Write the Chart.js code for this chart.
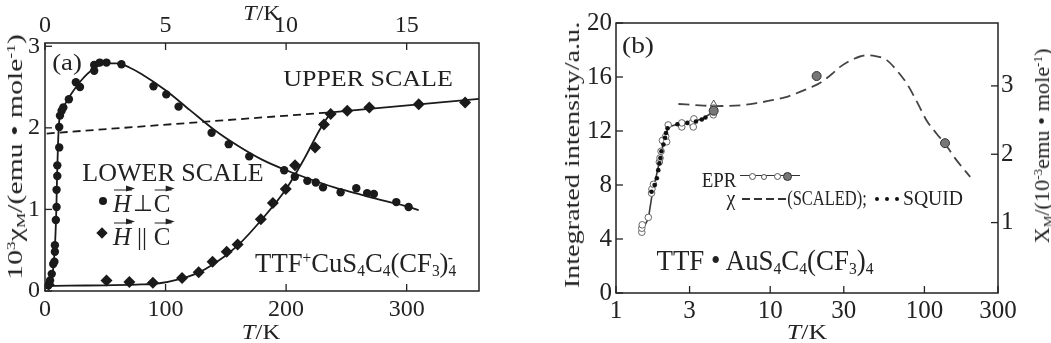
<!DOCTYPE html>
<html>
<head>
<meta charset="utf-8">
<script src="https://cdn.jsdelivr.net/npm/chart.js@4.4.0/dist/chart.umd.min.js"></script>
<style>
html,body{margin:0;padding:0;background:#fff;}
#wrap{position:relative;width:1051px;height:343px;overflow:hidden;background:#fff;font-family:"Liberation Serif","Times New Roman",Times,serif;color:#222;}
#ca{position:absolute;left:0;top:0;}
#cb{position:absolute;left:540px;top:0;}
.t{position:absolute;white-space:nowrap;line-height:1;}
.t sub,.t sup{font-size:58%;line-height:0;}
.t sub{vertical-align:-0.25em;}
.t sup{vertical-align:0.55em;}
.vec{position:relative;display:inline-block;}
.vec .ar{position:absolute;left:1px;right:-1px;top:-1px;height:0;border-top:1.6px solid #222;}
.vec .ar::after{content:"";position:absolute;right:-3px;top:-4.8px;border-left:9px solid #222;border-top:3.6px solid transparent;border-bottom:3.6px solid transparent;}
.mk{position:absolute;}
</style>
</head>
<body>
<div id="wrap">
<canvas id="ca" width="520" height="343"></canvas>
<canvas id="cb" width="511" height="343"></canvas>

<!-- panel (a) texts -->
<div class="t" data-x="261.5" data-y="13" data-w="37" style="font-size:22px"><i>T</i>/K</div>
<div class="t" data-x="261" data-y="332" data-w="38" style="font-size:22px"><i>T</i>/K</div>
<div class="t" data-x="15" data-y="157" data-w="245" data-r="-90" style="font-size:22px">10<sup>3</sup>χ<sub>M</sub>/(emu • mole<sup>-1</sup>)</div>
<div class="t" data-x="67" data-y="62" data-w="30" style="font-size:24px">(a)</div>
<div class="t" data-x="368" data-y="78" data-w="170" style="font-size:24px">UPPER SCALE</div>
<div class="t" data-x="172.5" data-y="172" data-w="181" style="font-size:25px">LOWER SCALE</div>
<div class="t" data-x="354" data-y="263" data-w="198" style="font-size:28px">TTF<sup>+</sup>CuS<sub>4</sub>C<sub>4</sub>(CF<sub>3</sub>)<sub>4</sub><sup style="margin-left:-0.55em">-</sup></div>

<div class="mk" style="left:99px;top:197px;width:8px;height:8px;border-radius:50%;background:#1a1a1a"></div>
<div class="mk" style="left:98px;top:229px;width:8px;height:8px;background:#1a1a1a;transform:rotate(45deg)"></div>
<div class="t" data-x="122" data-y="203" style="font-size:25px"><span class="vec"><i>H</i><span class="ar"></span></span></div>
<div class="t" data-x="143" data-y="203" style="font-size:23px">⊥</div>
<div class="t" data-x="162" data-y="203" style="font-size:25px"><span class="vec">C<span class="ar"></span></span></div>
<div class="t" data-x="122" data-y="236" style="font-size:25px"><span class="vec"><i>H</i><span class="ar"></span></span></div>
<div class="t" data-x="142" data-y="236" style="font-size:25px">||</div>
<div class="t" data-x="162" data-y="236" style="font-size:25px"><span class="vec">C<span class="ar"></span></span></div>

<!-- panel (b) texts -->
<div class="t" data-x="637.5" data-y="45" data-w="32" style="font-size:24px">(b)</div>
<div class="t" data-x="572" data-y="155" data-w="266" data-r="-90" style="font-size:22px">Integrated intensity/a.u.</div>
<div class="t" data-x="1042" data-y="146" data-w="195" data-r="-90" style="font-size:22px">X<sub>M</sub>/(10<sup>-3</sup>emu • mole<sup>-1</sup>)</div>
<div class="t" data-x="806.7" data-y="332" data-w="40" style="font-size:22px"><i>T</i>/K</div>
<div class="t" data-x="765" data-y="260" data-w="217" style="font-size:29px">TTF • AuS<sub>4</sub>C<sub>4</sub>(CF<sub>3</sub>)<sub>4</sub></div>
<div class="t" data-x="719" data-y="180" data-w="35" style="font-size:20px">EPR</div>
<div class="t" data-x="731" data-y="198" style="font-size:20px">χ</div>
<div class="t" data-x="827" data-y="198" data-w="80" style="font-size:20px">(SCALED);</div>
<div class="t" data-x="933" data-y="198" data-w="60" style="font-size:20px">SQUID</div>

<div class="mk" style="left:740px;top:175px;width:60px;height:0;border-top:1.6px solid #333"></div>
<div class="mk" style="left:748.5px;top:172.5px;width:5px;height:5px;border-radius:50%;background:#fff;border:1px solid #555"></div>
<div class="mk" style="left:761px;top:173.5px;width:4px;height:4px;border-radius:50%;background:#fff;border:1px solid #555"></div>
<div class="mk" style="left:773.5px;top:172.5px;width:5px;height:5px;border-radius:50%;background:#fff;border:1px solid #555"></div>
<div class="mk" style="left:783px;top:171.5px;width:7px;height:7px;border-radius:50%;background:#777;border:1px solid #333"></div>
<div class="mk" style="left:742px;top:198px;width:45px;height:2px;background:repeating-linear-gradient(90deg,#333 0 8px,transparent 8px 12px)"></div>
<div class="mk" style="left:875px;top:197px;width:4px;height:4px;border-radius:50%;background:#111"></div>
<div class="mk" style="left:885px;top:197px;width:4px;height:4px;border-radius:50%;background:#111"></div>
<div class="mk" style="left:895px;top:197px;width:4px;height:4px;border-radius:50%;background:#111"></div>
</div>

<script>
// ===== Panel (a): H perpendicular C (circles, upper scale, K) =====
const aPerpK   = [0.14,0.21,0.28,0.34,0.39,0.41,0.41,0.45,0.48,0.48,0.51,0.51,0.59,0.59,0.62,0.69,0.76,0.99,1.28,1.45,2.04,2.04,2.27,2.55,3.17,4.50,5.03,5.54,6.91,7.62,8.47,9.92,10.36,10.88,11.23,11.53,12.26,12.91,13.36,13.64,14.57,15.08];
const aPerpChi = [0.07,0.13,0.21,0.33,0.36,0.48,0.56,0.87,1.03,1.24,1.41,1.54,1.76,2.01,2.15,2.21,2.25,2.35,2.56,2.50,2.70,2.77,2.80,2.80,2.78,2.51,2.41,2.26,1.94,1.80,1.65,1.48,1.40,1.35,1.33,1.27,1.21,1.26,1.20,1.19,1.09,1.03];
const aPerpFitK   = [0.05,0.2,0.33,0.42,0.47,0.5,0.54,0.58,0.68,0.85,1.1,1.5,2.0,2.5,3.0,3.5,4.0,5.0,6.0,7.0,8.0,9.0,10.0,11.0,12.0,13.0,14.0,15.0,15.5];
const aPerpFitChi = [0.03,0.08,0.25,0.6,1.0,1.4,1.8,2.05,2.2,2.3,2.42,2.58,2.72,2.79,2.79,2.74,2.66,2.46,2.22,1.98,1.78,1.61,1.48,1.37,1.27,1.19,1.11,1.04,0.99];
// ===== Panel (a): H parallel C (diamonds, lower scale, K) =====
const aParT   = [3,51,70,89.5,113.7,127.5,139,150.7,159.8,179,189,199.7,207.4,224,231.4,237,250.7,269,310,348.5];
const aParChi = [0.08,0.13,0.11,0.10,0.16,0.23,0.36,0.48,0.57,0.88,1.08,1.25,1.54,1.76,2.04,2.17,2.21,2.25,2.29,2.31];
const aParFitT   = [1.5,20,50,80,95,110,125,140,160,180,200,215,228,237];
const aParFitChi = [0.06,0.065,0.07,0.08,0.095,0.14,0.21,0.33,0.56,0.88,1.25,1.62,1.98,2.19];
const aParHighT   = [237,360];
const aParHighChi = [2.19,2.355];
const aDashT   = [1.4,237];
const aDashChi = [1.93,2.19];
const aLowerTicks = [0,100,200,300];
const aUpperTicks = [0,5,10,15];
const aYTicks = [0,1,2,3];

// ===== Panel (b) =====
const bEprT = [1.47,1.47,1.48,1.62,1.70,1.71,1.75,1.91,1.93,1.96,2.0,2.13,2.1,2.18,2.67,2.67,3.1,3.17,3.2,4.28,4.3];
const bEprI = [4.5,4.8,5.05,5.6,7.4,7.7,8.05,9.7,10.0,10.5,11.3,11.2,11.6,12.45,12.3,12.6,12.6,12.3,12.9,13.2,13.7];
const bEprLineT = [1.47,1.62,1.72,1.82,1.92,2.02,2.12,2.2,2.4,2.7,3.2,3.7,4.3];
const bEprLineI = [4.6,5.5,7.4,8.6,9.8,11.0,11.9,12.3,12.45,12.5,12.7,12.95,13.45];
const bSquidT = [1.70,1.78,1.84,1.88,1.91,1.94,1.97,2.03,2.08,2.11,2.16,2.5,2.9,3.3,3.6,3.8];
const bSquidI = [7.5,8.0,8.5,9.1,9.6,10.0,10.5,11.0,11.5,11.85,12.2,12.5,12.6,12.7,12.85,13.0];
const bGrayT = [4.3,20,136];
const bGrayI = [13.5,16.07,11.1];
const bTriT = [4.3];
const bTriI = [14.0];
const bChiT = [2.54,3.5,4.28,6.4,8.5,10.5,13,15.6,18,21,25,28.4,35,42,48,57,66,77,90,103,120,136,160,198];
const bChiI = [14.0,13.9,13.85,13.9,14.1,14.3,14.55,14.9,15.2,15.55,16.2,16.75,17.35,17.6,17.55,17.25,16.5,15.5,14.1,12.8,11.8,11.05,9.9,8.6];
const bXTicks = [1,3,10,30,100,300];
const bYTicks = [0,4,8,12,16,20];
const bY2Ticks = [1,2,3];

const pts = (xs, ys) => xs.map((x, i) => ({x, y: ys[i]}));
const INK = '#1a1a1a';
const FONT = '"Liberation Serif", "Times New Roman", Times, serif';
Chart.defaults.font.family = FONT;
Chart.defaults.color = '#222';

const frameTicks = {
  id: 'frameTicks',
  afterDatasetsDraw(chart) {
    const {ctx, chartArea: a} = chart;
    const L = 7;
    ctx.save();
    ctx.strokeStyle = '#222';
    ctx.lineWidth = 1.5;
    ctx.strokeRect(a.left, a.top, a.right - a.left, a.bottom - a.top);
    ctx.lineWidth = 1.3;
    Object.values(chart.scales).forEach(s => {
      s.ticks.forEach(t => {
        const p = s.getPixelForValue(t.value);
        ctx.beginPath();
        if (s.position === 'bottom') { ctx.moveTo(p, a.bottom); ctx.lineTo(p, a.bottom - L); }
        else if (s.position === 'top') { ctx.moveTo(p, a.top); ctx.lineTo(p, a.top + L); }
        else if (s.position === 'left') { ctx.moveTo(a.left, p); ctx.lineTo(a.left + L, p); }
        else if (s.position === 'right') { ctx.moveTo(a.right, p); ctx.lineTo(a.right - L, p); }
        ctx.stroke();
      });
    });
    ctx.restore();
  }
};

function axis(pos, min, max, tickVals, fit, size, pad, extra) {
  return Object.assign({
    position: pos, min, max,
    grid: {display: false, drawTicks: false},
    border: {display: false},
    afterBuildTicks: s => { s.ticks = tickVals.map(v => ({value: v})); },
    afterFit: s => { if (pos === 'top' || pos === 'bottom') s.height = fit; else s.width = fit; },
    ticks: {font: {size, family: FONT}, color: '#222', padding: pad, autoSkip: false, maxRotation: 0, callback: v => String(v)}
  }, extra || {});
}

function makeCharts() {
new Chart(document.getElementById('ca'), {
  type: 'scatter',
  data: {datasets: [
    {data: pts(aPerpK, aPerpChi), xAxisID: 'x2', yAxisID: 'y', pointStyle: 'circle', pointRadius: 4.2, backgroundColor: INK, borderColor: INK, borderWidth: 0},
    {data: pts(aParT, aParChi), xAxisID: 'x', yAxisID: 'y', pointStyle: 'rectRot', pointRadius: 6, backgroundColor: INK, borderColor: INK, borderWidth: 0},
    {data: pts(aPerpFitK, aPerpFitChi), xAxisID: 'x2', yAxisID: 'y', showLine: true, pointRadius: 0, borderColor: INK, borderWidth: 1.8, cubicInterpolationMode: 'monotone'},
    {data: pts(aParFitT, aParFitChi), xAxisID: 'x', yAxisID: 'y', showLine: true, pointRadius: 0, borderColor: INK, borderWidth: 1.8, cubicInterpolationMode: 'monotone'},
    {data: pts(aParHighT, aParHighChi), xAxisID: 'x', yAxisID: 'y', showLine: true, pointRadius: 0, borderColor: INK, borderWidth: 1.8},
    {data: pts(aDashT, aDashChi), xAxisID: 'x', yAxisID: 'y', showLine: true, pointRadius: 0, borderColor: INK, borderWidth: 1.8, borderDash: [8, 5]}
  ]},
  options: {
    responsive: false, animation: false,
    layout: {padding: {left: 0, right: 41, top: 0, bottom: 0}},
    plugins: {legend: {display: false}, tooltip: {enabled: false}},
    scales: {
      x: axis('bottom', 0, 360, aLowerTicks, 52, 24, 4, {type: 'linear'}),
      x2: axis('top', 0, 18, aUpperTicks, 43, 24, 3, {type: 'linear', axis: 'x'}),
      y: axis('left', 0, 3.04, aYTicks, 45, 24, 5, {type: 'linear'})
    }
  },
  plugins: [frameTicks]
});

const G = '#3a3a3a';
new Chart(document.getElementById('cb'), {
  type: 'scatter',
  data: {datasets: [
    {data: pts(bGrayT, bGrayI), xAxisID: 'x', yAxisID: 'y', pointRadius: 4.5, backgroundColor: '#777', borderColor: '#333', borderWidth: 1},
    {data: pts(bTriT, bTriI), xAxisID: 'x', yAxisID: 'y', pointStyle: 'triangle', pointRadius: 4, backgroundColor: 'rgba(255,255,255,0)', borderColor: '#555', borderWidth: 1},
    {data: pts(bSquidT, bSquidI), xAxisID: 'x', yAxisID: 'y', pointRadius: 2.3, backgroundColor: '#111', borderWidth: 0},
    {data: pts(bEprT, bEprI), xAxisID: 'x', yAxisID: 'y', pointRadius: 3.3, backgroundColor: '#fff', borderColor: '#666', borderWidth: 1},
    {data: pts(bEprLineT, bEprLineI), xAxisID: 'x', yAxisID: 'y', showLine: true, pointRadius: 0, borderColor: G, borderWidth: 1.6},
    {data: pts(bChiT, bChiI), xAxisID: 'x', yAxisID: 'y', showLine: true, pointRadius: 0, borderColor: '#444', borderWidth: 1.8, borderDash: [11, 6], cubicInterpolationMode: 'monotone'}
  ]},
  options: {
    responsive: false, animation: false,
    layout: {padding: {left: 0, right: 0, top: 23, bottom: 0}},
    plugins: {legend: {display: false}, tooltip: {enabled: false}},
    scales: {
      x: axis('bottom', 1, 300, bXTicks, 50, 25, 3, {type: 'logarithmic'}),
      y: axis('left', 0, 20, bYTicks, 76, 25, 4, {type: 'linear'}),
      y2: axis('right', -0.03, 3.92, bY2Ticks, 53, 25, 3, {type: 'linear', axis: 'y'})
    }
  },
  plugins: [frameTicks]
});
}

function placeTexts() {
  document.querySelectorAll('.t').forEach(el => {
    const x = +el.dataset.x, y = +el.dataset.y;
    el.style.left = x + 'px';
    el.style.top = y + 'px';
    const w = el.dataset.w ? +el.dataset.w : null;
    const k = w ? w / el.offsetWidth : 1;
    const r = el.dataset.r ? +el.dataset.r : 0;
    el.style.transform = `translate(-50%,-50%) rotate(${r}deg) scaleX(${k})`;
  });
}
makeCharts();
placeTexts();
if (document.fonts && document.fonts.ready) document.fonts.ready.then(placeTexts);
</script>
</body>
</html>
